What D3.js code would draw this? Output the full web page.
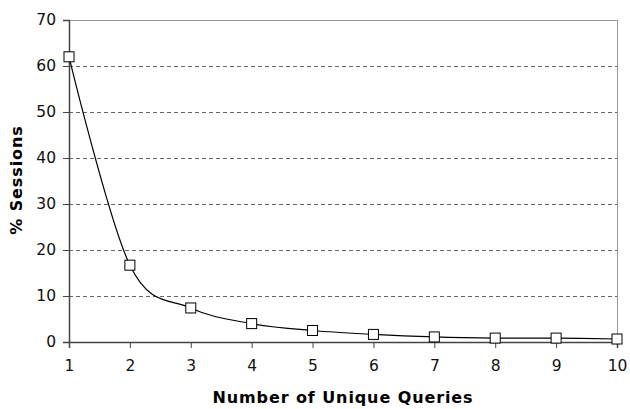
<!DOCTYPE html>
<html>
<head>
<meta charset="utf-8">
<script src="https://cdn.jsdelivr.net/npm/d3@7"></script>
<style>
  body { margin: 0; background: #fff; }
  svg text { font-family: "DejaVu Sans", Verdana, sans-serif; }
</style>
</head>
<body>
<svg id="chart" width="630" height="409"></svg>
<script>
const queries = [1, 2, 3, 4, 5, 6, 7, 8, 9, 10];
const sessionsPct = [62, 16.7, 7.4, 4.0, 2.5, 1.65, 1.1, 0.85, 0.85, 0.65];
const yTicks = [0, 10, 20, 30, 40, 50, 60, 70];

const width = 630, height = 409;
const margin = { top: 20, right: 13, bottom: 67, left: 69 };
const chartWidth = width - margin.left - margin.right;
const chartHeight = height - margin.top - margin.bottom;

const data = queries.map((q, i) => ({ q, v: sessionsPct[i] }));

const x = d3.scaleLinear().domain([1, 10]).range([0, chartWidth]);
const y = d3.scaleLinear().domain([0, 70]).range([chartHeight, 0]);

const svg = d3.select("#chart");
const g = svg.append("g").attr("transform", `translate(${margin.left},${margin.top})`);

// grid lines (dashed), top one solid
g.selectAll(".grid")
  .data(yTicks.filter(t => t > 0))
  .enter().append("line")
  .attr("x1", 0).attr("x2", chartWidth)
  .attr("y1", d => y(d)).attr("y2", d => y(d))
  .attr("stroke", d => d === 70 ? "#999" : "#666")
  .attr("stroke-width", 1)
  .attr("stroke-dasharray", d => d === 70 ? null : "4,3")
  .attr("shape-rendering", "crispEdges");

// right border
g.append("line")
  .attr("x1", chartWidth).attr("x2", chartWidth)
  .attr("y1", 0).attr("y2", chartHeight)
  .attr("stroke", "#999")
  .attr("shape-rendering", "crispEdges");

// Y Axis
const yAxis = g.append("g")
  .call(d3.axisLeft(y).tickValues(yTicks).tickSize(6).tickPadding(7));
yAxis.select(".domain").attr("stroke", "#444").attr("stroke-width", 1.5);
yAxis.selectAll(".tick line").attr("stroke", "#444");
yAxis.selectAll("text").style("font-size", "15.5px").attr("fill", "#111");

// X Axis
const xAxis = g.append("g")
  .attr("transform", `translate(0,${chartHeight})`)
  .call(d3.axisBottom(x).tickValues(queries).tickSize(6).tickPadding(12));
xAxis.select(".domain").attr("stroke", "#444").attr("stroke-width", 1.5);
xAxis.selectAll(".tick line").attr("stroke", "#444");
xAxis.selectAll("text").style("font-size", "15.5px").attr("fill", "#111");

// smoothed line
const line = d3.line()
  .x(d => x(d.q))
  .y(d => y(d.v))
  .curve(d3.curveCardinal.tension(0));

g.append("path")
  .datum(data)
  .attr("fill", "none")
  .attr("stroke", "#000")
  .attr("stroke-width", 1.2)
  .attr("d", line);

// markers
const s = 10;
g.selectAll(".marker")
  .data(data)
  .enter().append("rect")
  .attr("class", "marker")
  .attr("x", d => x(d.q) - s / 2)
  .attr("y", d => y(d.v) - s / 2)
  .attr("width", s).attr("height", s)
  .attr("fill", "#fff")
  .attr("stroke", "#000")
  .attr("stroke-width", 1);

// axis titles
svg.append("text")
  .attr("x", 343)
  .attr("y", 403)
  .attr("text-anchor", "middle")
  .style("font-size", "16px")
  .style("font-weight", "bold")
  .style("letter-spacing", "0.9px")
  .text("Number of Unique Queries");

svg.append("text")
  .attr("transform", `translate(22,180) rotate(-90)`)
  .attr("text-anchor", "middle")
  .style("font-size", "16px")
  .style("font-weight", "bold")
  .style("letter-spacing", "0.9px")
  .text("% Sessions");
</script>
</body>
</html>
